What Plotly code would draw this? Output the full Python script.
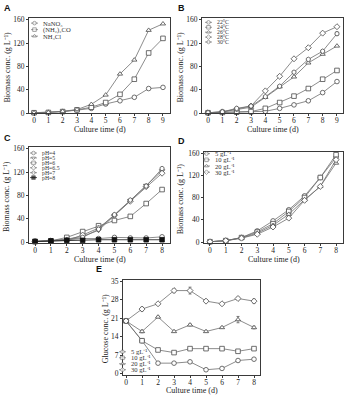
import plotly.graph_objects as go

W, H = 346, 400
SERIF = "Liberation Serif"
LINE = "#6e6e6e"
EDGE = "#4a4a4a"
AXC = "#3a3a3a"

# ---------------- data ----------------
days_ab = [0, 1, 2, 3, 4, 5, 6, 7, 8, 9]
days_cde = [0, 1, 2, 3, 4, 5, 6, 7, 8]

a_names = ["NaNO₃", "(NH₂)₂CO", "NH₄Cl"]
a_nano3 = [0.5, 1, 2.5, 5, 8, 15.5, 21, 27, 42, 44]
a_urea = [0.5, 1, 2.5, 5.5, 10, 18, 32, 58, 103, 128]
a_nh4cl = [0.5, 1, 3, 6, 15, 31, 67, 91, 142, 153]

b_names = ["22°C", "24°C", "26°C", "28°C", "30°C"]
b_22 = [0.5, 1, 1, 1.5, 3, 8, 14, 21, 35, 54]
b_24 = [0.5, 1, 1.5, 2.5, 8, 18, 29, 42, 58, 73]
b_26 = [0.5, 2, 6, 10, 27, 45, 62, 86, 101, 115]
b_28 = [0.5, 2, 7, 12, 38, 63, 93, 112, 137, 148]
b_30 = [0.5, 2, 8, 12, 28, 46, 70, 92, 106, 136]
b_30_err = [0, 0, 0, 0, 0, 0, 0, 0, 2, 3]

c_names = ["pH=4", "pH=5", "pH=6", "pH=6.5", "pH=7", "pH=8"]
c_ph4 = [1, 2, 4, 6, 6, 8, 7, 7, 9]
c_ph5 = [1, 2, 5, 10, 20, 45, 71, 97, 122]
c_ph6 = [1, 2, 8, 18, 28, 37, 44, 66, 90]
c_ph65 = [1, 2, 3, 12, 24, 46, 70, 95, 118]
c_ph7 = [1, 2, 4, 8, 22, 47, 72, 96, 126]
c_ph8 = [1, 2, 3, 3, 4, 4, 4, 4, 4]

d_names = ["5 gL⁻¹", "10 gL⁻¹", "20 gL⁻¹", "30 gL⁻¹"]
d_5 = [0.5, 2.5, 8, 20, 38, 58, 83, 116, 152]
d_10 = [0.5, 2.5, 8, 18, 33, 55, 80, 116, 157]
d_20 = [0.5, 2.5, 7, 16, 30, 50, 76, 100, 142]
d_30 = [0.5, 2.5, 7, 14, 27, 43, 75, 100, 148]

e_names = ["5 gL⁻¹", "10 gL⁻¹", "20 gL⁻¹", "30 gL⁻¹"]
e_5 = [20, 12.5, 4, 4, 4.5, 1.5, 2, 5, 5.5]
e_10 = [20, 12.5, 9, 8, 9.5, 9.5, 9.5, 8.5, 9.5]
e_20 = [20, 16, 21.5, 16, 18.5, 16, 17.5, 20.5, 17.5]
e_30 = [20, 24.5, 26.5, 31.5, 31.5, 27.5, 26.5, 28.5, 27.5]
e_20_err = [0.4, 0.5, 0.3, 0.3, 0.4, 0.3, 0.3, 1.2, 0.5]
e_30_err = [0.4, 0.7, 0.3, 0.8, 1.3, 0.5, 0.3, 0.5, 0.8]

biomass_ticks = [0, 40, 80, 120, 160]
glucose_ticks = [0, 7, 14, 21, 28, 35]

# ---------------- panel layout (pixels) ----------------
panels = [
    dict(letter="A", ax="", days=days_ab,
         series=[a_nano3, a_urea, a_nh4cl], errs=[None, None, None],
         names=a_names, symbols=["circle", "square", "triangle-up"],
         box=(29, 170, 15, 112.3), xr=[-0.35, 9.49], yr=[-0.5, 163.4],
         yt=biomass_ticks, ytitle="Biomass conc. (g L⁻¹)",
         leg=(31, 20.5, 6.6, 6.6), letter_xy=(2, 5), ytx=7, xty=129),
    dict(letter="B", ax="2", days=days_ab,
         series=[b_22, b_24, b_26, b_28, b_30], errs=[None, None, None, None, b_30_err],
         names=b_names, symbols=["circle", "square", "triangle-up", "diamond", "hexagon"],
         box=(202, 343, 15, 112.3), xr=[-0.42, 9.42], yr=[-0.5, 163.4],
         yt=biomass_ticks, ytitle="Biomass conc. (g L⁻¹)",
         leg=(205, 19.7, 5.0, 5.8), letter_xy=(176, 5), ytx=180, xty=129),
    dict(letter="C", ax="3", days=days_cde,
         series=[c_ph4, c_ph5, c_ph6, c_ph65, c_ph7, c_ph8], errs=[None] * 6,
         names=c_names, symbols=["circle", "triangle-down", "square", "diamond", "hexagon", "square"],
         box=(29, 170, 147, 243.8), xr=[-0.38, 8.5], yr=[-0.8, 162.2],
         yt=biomass_ticks, ytitle="Biomass conc. (g L⁻¹)",
         leg=(30, 152.7, 5.0, 5.8), letter_xy=(2, 137), ytx=7, xty=261),
    dict(letter="D", ax="4", days=days_cde,
         series=[d_5, d_10, d_20, d_30], errs=[None] * 4,
         names=d_names, symbols=["circle", "square", "triangle-up", "diamond"],
         box=(204, 343, 151.7, 243.8), xr=[-0.38, 8.44], yr=[-0.9, 161.8],
         yt=biomass_ticks, ytitle="Biomass conc. (g L⁻¹)",
         leg=(203, 153.3, 6.3, 6.6), letter_xy=(176, 140), ytx=180, xty=261),
    dict(letter="E", ax="5", days=days_cde,
         series=[e_5, e_10, e_20, e_30], errs=[None, None, e_20_err, e_30_err],
         names=e_names, symbols=["circle", "square", "triangle-up", "diamond"],
         box=(123, 260, 281.7, 378.3), xr=[-0.19, 8.375], yr=[-0.37, 35.6],
         yt=glucose_ticks, ytitle="Glucose conc. (g L⁻¹)",
         leg=(119, 355, 6.1, 6.6), letter_xy=(94, 271), ytx=105, xty=394),
]

fig = go.Figure()
annotations = []

for p in panels:
    ax = p["ax"]
    l, r, t, b = p["box"]
    xref, yref = "x" + ax, "y" + ax
    for i, (vals, name, sym) in enumerate(zip(p["series"], p["names"], p["symbols"])):
        filled = (p["letter"] == "C" and i == len(p["series"]) - 1)
        err = p["errs"][i]
        fig.add_trace(go.Scatter(
            x=p["days"], y=vals, name=name, mode="lines+markers",
            xaxis=xref, yaxis=yref, showlegend=False, cliponaxis=False,
            line=dict(color="#111111" if filled else LINE, width=0.8),
            marker=dict(symbol=sym, size=4.6,
                        color="#111111" if filled else "white",
                        line=dict(color="#111111" if filled else EDGE, width=0.8)),
            error_y=dict(type="data", array=err, visible=err is not None,
                         color=EDGE, thickness=0.7, width=1.5),
        ))
    common = dict(showline=True, linecolor=AXC, linewidth=0.8, mirror=True,
                  ticks="outside", ticklen=2.2, tickwidth=0.8, tickcolor=AXC,
                  showgrid=False, zeroline=False,
                  tickfont=dict(family=SERIF, size=7.5, color="#222222"))
    fig.update_layout(**{
        "xaxis" + ax: dict(domain=[l / W, r / W], range=p["xr"], anchor=yref,
                           tickvals=p["days"], ticklabelstandoff=-2, **common),
        "yaxis" + ax: dict(domain=[1 - b / H, 1 - t / H], range=p["yr"], anchor=xref,
                           tickvals=p["yt"], **common),
    })
    # axis titles
    annotations.append(dict(x=(l + r) / 2, y=p["xty"], xref="x6", yref="y6",
                            text="Culture time (d)", showarrow=False,
                            font=dict(family=SERIF, size=8, color="#222222")))
    annotations.append(dict(x=p["ytx"], y=(t + b) / 2 + 2, xref="x6", yref="y6",
                            text=p["ytitle"], textangle=-90, showarrow=False,
                            font=dict(family=SERIF, size=8, color="#222222")))
    # panel letter
    lx, ly = p["letter_xy"]
    annotations.append(dict(x=lx, y=ly, xref="x6", yref="y6", text="<b>" + p["letter"] + "</b>",
                            xanchor="left", showarrow=False,
                            font=dict(family="Liberation Sans", size=9, color="#111111")))
    # legend (built from the series names)
    x0, y0, dy, fs = p["leg"]
    for i, (name, sym) in enumerate(zip(p["names"], p["symbols"])):
        yy = y0 + i * dy
        filled = (p["letter"] == "C" and i == len(p["names"]) - 1)
        fig.add_trace(go.Scatter(
            x=[x0, x0 + 3.5, x0 + 7], y=[yy, yy, yy], mode="lines+markers",
            xaxis="x6", yaxis="y6", showlegend=False, hoverinfo="skip",
            line=dict(color="#111111" if filled else LINE, width=0.7),
            marker=dict(symbol=sym, size=[0, 3.6, 0],
                        color="#111111" if filled else "white",
                        line=dict(color="#111111" if filled else EDGE, width=0.7)),
        ))
        annotations.append(dict(x=x0 + 10, y=yy, xref="x6", yref="y6", text=name,
                                xanchor="left", showarrow=False,
                                font=dict(family=SERIF, size=fs, color="#333333")))

fig.update_layout(
    xaxis6=dict(domain=[0, 1], range=[0, W], visible=False, anchor="y6", fixedrange=True),
    yaxis6=dict(domain=[0, 1], range=[H, 0], visible=False, anchor="x6", fixedrange=True),
    annotations=annotations,
    width=W, height=H,
    margin=dict(l=0, r=0, t=0, b=0),
    paper_bgcolor="white", plot_bgcolor="rgba(0,0,0,0)",
    showlegend=False,
)

fig.write_html("out.html", config={"displayModeBar": False},
               post_script="document.body.style.margin='0';document.body.style.overflow='hidden';")
